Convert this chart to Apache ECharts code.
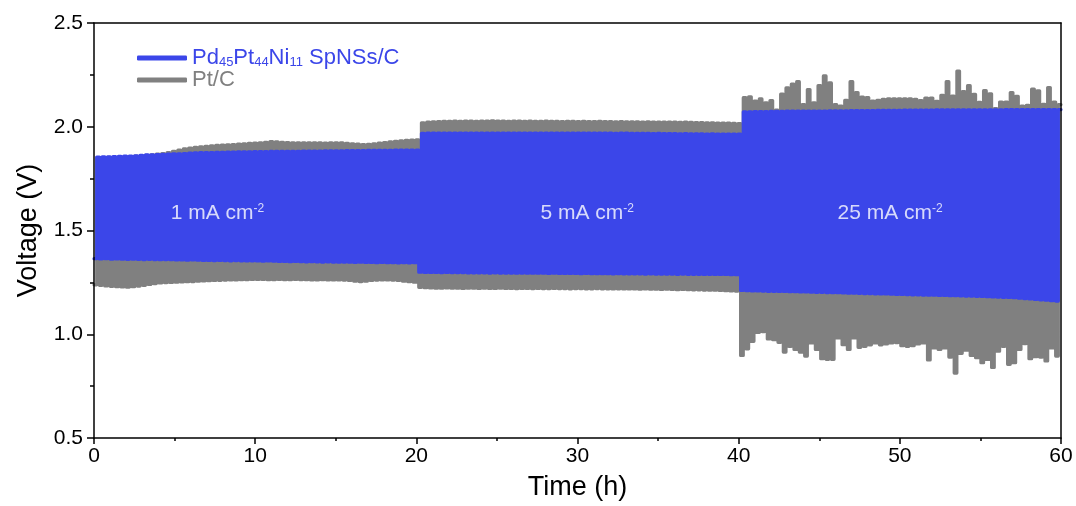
<!DOCTYPE html>
<html>
<head>
<meta charset="utf-8">
<script src="https://cdn.jsdelivr.net/npm/echarts@6/dist/echarts.min.js"></script>
<style>
  html, body { margin: 0; padding: 0; background: #ffffff; }
  #chart { width: 1076px; height: 506px; }
</style>
</head>
<body>
<div id="chart"></div>
<script>
// Galvanostatic charge/discharge cycling: 60 charge/discharge cycles per current-density step
const stepStarts = [0, 20.15, 40.12];            // h
const stepEnds = [20.15, 40.12, 60];             // h
const stepCurrents = ['1', '5', '25'];           // mA cm^-2
const stepLabelTimes = [7.66, 30.6, 49.4];       // h
const stepLabelVoltage = 1.585;                  // V

const X_TICKS = { min: 0, max: 60, interval: 10 };
const Y_TICKS = { min: 0.5, max: 2.5, interval: 0.5 };

const NAME_PD = 'Pd45Pt44Ni11 SpNSs/C';
const NAME_PT = 'Pt/C';

// Pd45Pt44Ni11 SpNSs/C — charge (high) and discharge (low) voltage of each cycle, V
const pdHigh1 = [1.854,1.855,1.855,1.856,1.857,1.858,1.859,1.860,1.862,
  1.864,1.865,1.866,1.867,1.868,1.869,1.870,1.871,1.873,
  1.874,1.875,1.876,1.876,1.877,1.877,1.878,1.878,1.879,
  1.879,1.879,1.880,1.880,1.880,1.881,1.881,1.881,1.882,
  1.882,1.882,1.883,1.883,1.883,1.883,1.884,1.884,1.884,1.884,1.885,1.885,
  1.885,1.885,1.886,1.886,1.886,1.886,1.886,1.887,1.887,1.887,1.887,1.887];
const pdLow1 = [1.364,1.363,1.364,1.362,1.363,1.362,1.361,1.362,1.361,1.360,1.361,1.360,1.359,1.360,1.359,
  1.358,1.358,1.357,1.358,1.357,1.356,1.356,1.355,1.356,1.355,1.354,1.355,1.354,1.353,1.354,
  1.353,1.352,1.353,1.352,1.351,1.351,1.350,1.351,1.350,1.349,1.350,1.349,1.348,1.349,1.348,
  1.347,1.348,1.347,1.346,1.347,1.346,1.346,1.345,1.346,1.345,1.345,1.344,1.345,1.344,1.345];
const pdHigh2 = [1.968,1.969,1.969,1.970,1.969,1.969,1.970,1.970,1.969,1.970,
  1.970,1.969,1.970,1.970,1.970,1.969,1.970,1.970,1.969,1.970,
  1.970,1.970,1.969,1.970,1.969,1.970,1.970,1.969,1.969,1.970,
  1.969,1.969,1.970,1.969,1.969,1.969,1.968,1.969,1.969,1.968,
  1.968,1.968,1.968,1.967,1.968,1.967,1.967,1.967,1.966,1.967,
  1.966,1.966,1.966,1.965,1.966,1.965,1.965,1.965,1.964,1.964];
const pdLow2 = [1.299,1.298,1.298,1.298,1.297,1.298,1.297,1.297,1.297,1.296,
  1.296,1.296,1.296,1.295,1.296,1.295,1.295,1.295,1.294,1.295,
  1.294,1.294,1.294,1.294,1.293,1.294,1.293,1.293,1.293,1.293,
  1.292,1.293,1.292,1.292,1.292,1.292,1.291,1.292,1.291,1.291,
  1.291,1.291,1.290,1.291,1.290,1.290,1.290,1.290,1.289,1.290,
  1.289,1.289,1.289,1.288,1.289,1.288,1.288,1.288,1.287,1.287];
const pdHigh3 = [2.072,2.072,2.073,2.073,2.073,2.074,2.074,2.074,2.075,2.075,
  2.075,2.075,2.076,2.076,2.076,2.076,2.077,2.077,2.077,2.077,
  2.078,2.078,2.078,2.078,2.078,2.079,2.079,2.079,2.079,2.079,
  2.080,2.080,2.080,2.080,2.080,2.080,2.081,2.081,2.081,2.081,
  2.081,2.081,2.082,2.082,2.082,2.082,2.082,2.082,2.082,2.083,
  2.083,2.083,2.083,2.083,2.083,2.083,2.083,2.083,2.083,2.083];
const pdLow3 = [1.211,1.210,1.209,1.209,1.208,1.207,1.207,1.206,1.206,1.205,
  1.205,1.204,1.204,1.203,1.202,1.202,1.201,1.200,1.200,1.199,
  1.198,1.198,1.197,1.196,1.196,1.195,1.194,1.194,1.193,1.192,
  1.192,1.191,1.190,1.190,1.189,1.188,1.188,1.187,1.187,1.186,
  1.186,1.185,1.184,1.184,1.183,1.182,1.181,1.180,1.179,1.178,
  1.177,1.176,1.174,1.172,1.170,1.168,1.166,1.164,1.162,1.160];

// Pt/C — charge (high) and discharge (low) voltage of each cycle, V
const ptHigh1 = [1.850,1.851,1.852,1.852,1.853,1.855,1.856,1.858,1.860,1.862,1.865,1.868,
  1.871,1.875,1.882,1.888,1.893,1.897,
  1.901,1.903,1.905,1.908,1.910,1.911,1.913,
  1.914,1.916,1.918,1.920,1.921,1.923,1.925,
  1.928,1.927,1.925,1.924,1.923,
  1.922,1.922,1.923,1.922,1.922,1.921,1.922,1.922,
  1.922,1.920,1.918,1.916,1.914,1.915,1.918,
  1.921,1.924,1.927,1.930,1.932,1.934,1.936,1.937];
const ptLow1 = [1.238,1.236,1.233,1.231,1.229,1.228,1.227,1.229,1.232,1.236,1.240,1.244,
  1.247,1.249,1.250,1.251,1.252,1.253,1.254,1.256,1.257,1.258,1.259,1.260,
  1.261,1.262,1.262,1.263,1.263,1.264,1.264,1.264,1.263,1.263,1.264,1.263,
  1.263,1.264,1.263,1.263,1.262,1.262,1.263,1.262,1.262,1.262,1.261,1.259,
  1.256,1.254,1.256,1.259,1.261,1.262,1.262,1.261,1.259,1.256,1.253,1.251];
const ptHigh2 = [2.019,2.022,2.024,2.025,2.026,2.026,2.027,2.026,2.027,2.027,
  2.026,2.027,2.027,2.028,2.027,2.027,2.026,2.027,2.027,2.026,
  2.027,2.026,2.026,2.027,2.026,2.026,2.025,2.026,2.026,2.025,
  2.026,2.025,2.025,2.026,2.025,2.025,2.024,2.025,2.024,2.024,
  2.024,2.023,2.024,2.023,2.023,2.022,2.023,2.022,2.021,2.022,
  2.021,2.020,2.020,2.019,2.019,2.018,2.017,2.017,2.016,2.015];
const ptLow2 = [1.226,1.224,1.223,1.222,1.222,1.223,1.222,1.222,1.221,1.222,
  1.222,1.221,1.222,1.221,1.221,1.222,1.221,1.221,1.220,1.221,
  1.221,1.220,1.221,1.220,1.220,1.221,1.220,1.220,1.219,1.220,
  1.220,1.219,1.219,1.220,1.219,1.219,1.218,1.219,1.218,1.218,
  1.218,1.217,1.218,1.217,1.217,1.216,1.217,1.216,1.215,1.216,
  1.215,1.214,1.214,1.213,1.212,1.212,1.211,1.210,1.209,1.208];
const ptHigh3 = [2.140,2.144,2.124,2.134,2.115,2.126,2.080,2.157,2.187,2.205,
  2.217,2.107,2.179,2.115,2.198,2.245,2.211,2.107,2.100,2.127,
  2.217,2.165,2.143,2.141,2.124,2.127,2.132,2.135,2.135,2.135,
  2.135,2.134,2.132,2.126,2.138,2.138,2.122,2.151,2.217,2.148,
  2.268,2.170,2.198,2.156,2.118,2.174,2.159,2.088,2.119,2.119,
  2.165,2.146,2.100,2.103,2.182,2.173,2.108,2.189,2.119,2.107];
const ptLow3 = [0.898,0.930,0.966,1.009,1.013,0.977,0.974,0.961,0.914,0.942,
  0.927,0.914,0.895,0.958,0.927,0.882,0.879,0.879,0.982,0.950,
  0.927,0.982,0.937,0.942,0.949,0.958,0.949,0.953,0.958,0.960,
  0.945,0.942,0.945,0.953,0.958,0.876,0.934,0.927,0.934,0.890,
  0.813,0.908,0.923,0.898,0.887,0.863,0.879,0.840,0.918,0.942,
  0.855,0.863,0.927,0.955,0.882,0.892,0.890,0.871,0.934,0.895];

const COLOR_PD = '#3b46e9';
const COLOR_PT = '#808080';
const FONT = "'Liberation Sans', Arial, Helvetica, sans-serif";

// Each cycle: discharge plateau for the first half, charge plateau for the second half;
// the cycles of one current step share its duration evenly.
function cyclePath(highs, lows) {
  const pts = [];
  highs.forEach((steps, s) => {
    const t0 = stepStarts[s];
    const cycle = (stepEnds[s] - t0) / steps.length;
    steps.forEach((hi, i) => {
      const lo = lows[s][i];
      const ta = t0 + i * cycle;
      const tb = ta + 0.5 * cycle;
      const tc = ta + cycle;
      pts.push([ta, lo], [tb, lo], [tb, hi], [tc, hi]);
    });
  });
  return pts;
}

const pdPath = cyclePath([pdHigh1, pdHigh2, pdHigh3], [pdLow1, pdLow2, pdLow3]);
const ptPath = cyclePath([ptHigh1, ptHigh2, ptHigh3], [ptLow1, ptLow2, ptLow3]);

const stepLabelData = stepCurrents.map((c, i) => ({
  value: [stepLabelTimes[i], stepLabelVoltage],
  label: { formatter: '{m|' + c + ' mA cm}{sup|-2}' }
}));

const legendCommon = {
  left: 137,
  orient: 'vertical',
  padding: 0,
  icon: 'roundRect',
  itemWidth: 50,
  itemHeight: 5,
  itemGap: 4,
  selectedMode: false
};

const chart = echarts.init(document.getElementById('chart'), null, { renderer: 'canvas' });

chart.setOption({
  animation: false,
  backgroundColor: '#ffffff',
  textStyle: { fontFamily: FONT },
  grid: { left: 94, right: 15, top: 23, bottom: 61, containLabel: false },
  legend: [
    Object.assign({}, legendCommon, {
      top: 47,
      data: [{ name: NAME_PD, itemStyle: { color: COLOR_PD } }],
      formatter: () => '{m|Pd}{s|45}{m|Pt}{s|44}{m|Ni}{s|11}{m| SpNSs/C}',
      textStyle: {
        fontFamily: FONT,
        fontSize: 22,
        rich: {
          m: { fontFamily: FONT, fontSize: 22, color: COLOR_PD, verticalAlign: 'bottom' },
          s: { fontFamily: FONT, fontSize: 13, color: COLOR_PD, verticalAlign: 'bottom' }
        }
      }
    }),
    Object.assign({}, legendCommon, {
      top: 69,
      data: [{ name: NAME_PT, itemStyle: { color: COLOR_PT }, textStyle: { color: COLOR_PT } }],
      textStyle: { fontFamily: FONT, fontSize: 22, color: COLOR_PT }
    })
  ],
  xAxis: [
    {
      type: 'value',
      min: X_TICKS.min, max: X_TICKS.max, interval: X_TICKS.interval,
      position: 'bottom',
      name: 'Time (h)',
      nameLocation: 'middle',
      nameGap: 36,
      nameTextStyle: { fontFamily: FONT, fontSize: 27, color: '#000' },
      axisLine: { show: true, onZero: false, lineStyle: { color: '#000', width: 1.5 } },
      axisTick: { show: true, inside: false, length: 6, lineStyle: { color: '#000', width: 1.5 } },
      minorTick: { show: true, splitNumber: 2, length: 3, lineStyle: { color: '#000', width: 1.5 } },
      axisLabel: { fontFamily: FONT, fontSize: 21, color: '#000', margin: 8 },
      splitLine: { show: false },
      z: 10
    },
    {
      type: 'value',
      min: X_TICKS.min, max: X_TICKS.max,
      position: 'top',
      axisLine: { show: true, onZero: false, lineStyle: { color: '#000', width: 1.5 } },
      axisTick: { show: false },
      axisLabel: { show: false },
      splitLine: { show: false },
      z: 10
    }
  ],
  yAxis: [
    {
      type: 'value',
      min: Y_TICKS.min, max: Y_TICKS.max, interval: Y_TICKS.interval,
      position: 'left',
      name: 'Voltage (V)',
      nameLocation: 'middle',
      nameGap: 52,
      nameTextStyle: { fontFamily: FONT, fontSize: 27, color: '#000' },
      axisLine: { show: true, onZero: false, lineStyle: { color: '#000', width: 1.5 } },
      axisTick: { show: true, inside: false, length: 7, lineStyle: { color: '#000', width: 1.5 } },
      minorTick: { show: true, splitNumber: 2, length: 4, lineStyle: { color: '#000', width: 1.5 } },
      axisLabel: {
        fontFamily: FONT, fontSize: 21, color: '#000', margin: 11,
        formatter: v => v.toFixed(1)
      },
      splitLine: { show: false },
      z: 10
    },
    {
      type: 'value',
      min: Y_TICKS.min, max: Y_TICKS.max,
      position: 'right',
      axisLine: { show: true, onZero: false, lineStyle: { color: '#000', width: 1.5 } },
      axisTick: { show: false },
      axisLabel: { show: false },
      splitLine: { show: false },
      z: 10
    }
  ],
  series: [
    {
      name: NAME_PT,
      type: 'line',
      data: ptPath,
      showSymbol: false,
      symbol: 'none',
      clip: true,
      z: 2,
      color: COLOR_PT,
      itemStyle: { color: COLOR_PT },
      lineStyle: { color: COLOR_PT, width: 3.2, join: 'round', cap: 'round' }
    },
    {
      name: NAME_PD,
      type: 'line',
      data: pdPath,
      showSymbol: false,
      symbol: 'none',
      clip: true,
      z: 3,
      color: COLOR_PD,
      itemStyle: { color: COLOR_PD },
      lineStyle: { color: COLOR_PD, width: 3.2, join: 'round', cap: 'round' }
    },
    {
      name: 'step labels',
      type: 'scatter',
      data: stepLabelData,
      symbolSize: 0,
      silent: true,
      z: 5,
      label: {
        show: true,
        position: 'inside',
        rich: {
          m: { fontFamily: FONT, fontSize: 21, color: '#ffffff', verticalAlign: 'top' },
          sup: { fontFamily: FONT, fontSize: 12, color: '#ffffff', verticalAlign: 'top' }
        }
      }
    }
  ]
});
</script>
</body>
</html>
